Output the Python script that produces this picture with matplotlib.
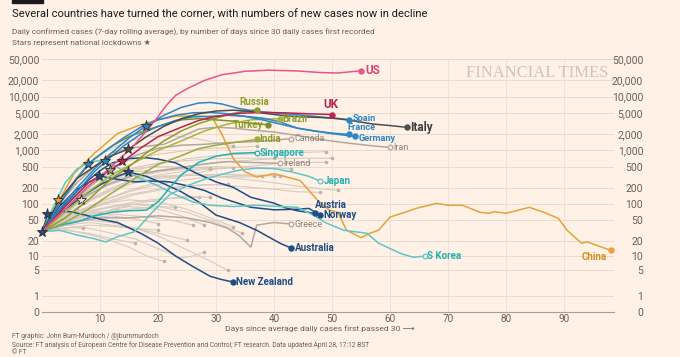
"""
FT chart: daily new cases by days since 30 daily cases, log(1+y) axis
"""

import numpy as np
import matplotlib
matplotlib.use("Agg")
import matplotlib.pyplot as plt
from matplotlib import font_manager
from matplotlib.ticker import NullLocator

names = {f.name for f in font_manager.fontManager.ttflist}
base = "Liberation Sans Narrow" if "Liberation Sans Narrow" in names else "Roboto"
plt.rcParams["font.family"] = [base, "DejaVu Sans"]

BG = "#fff1e5"

# ---- data: (days since 30 cases, 7-day avg daily cases)
us_d = [0, 4, 8, 11, 14, 16, 18, 19.5, 21.5, 23, 25, 28, 31, 35, 39, 44, 48, 51, 53, 55]
us_v = [30, 80, 220, 400, 800, 1300, 2300, 3600, 7000, 10500, 14000, 20000, 25500, 29500, 31000, 30000, 28000, 27500, 28800, 30200]
uk_d = [0, 4, 8, 12, 14, 17, 20, 24, 27, 30, 34, 38, 42, 46, 50]
uk_v = [30, 90, 250, 450, 625, 1100, 1800, 2700, 3600, 4300, 4900, 5100, 5000, 4800, 4650]
it_d = [0, 3, 6, 9, 12, 15, 18, 21, 24, 27, 30, 33, 36, 39, 42, 45, 48, 51, 54, 57, 60, 63]
it_v = [30, 120, 300, 500, 800, 1070, 1800, 2800, 3900, 4800, 5400, 5600, 5300, 4800, 4400, 4200, 4100, 3900, 3500, 3100, 2900, 2680]
es_d = [0, 3, 6, 9, 12, 15, 18, 21, 24, 27, 29, 31, 34, 37, 40, 43, 46, 50, 53]
es_v = [30, 80, 200, 450, 900, 1700, 2900, 4500, 6300, 7600, 7800, 7300, 6000, 5300, 5000, 4700, 4400, 4000, 3750]
fr_d = [0, 3, 6, 9, 11, 14, 17, 20, 23, 26, 29, 32, 35, 38, 41, 44, 47, 50, 53]
fr_v = [30, 70, 170, 400, 625, 1200, 2000, 2800, 3600, 4200, 4300, 4500, 4300, 4000, 3400, 2600, 2300, 2100, 1990]
de_d = [0, 3, 6, 8, 11, 14, 17, 20, 23, 26, 29, 32, 35, 38, 41, 44, 47, 50, 54]
de_v = [30, 100, 300, 567, 1000, 1700, 2700, 3700, 4500, 5000, 5100, 4800, 4300, 3700, 3100, 2600, 2300, 2050, 1820]
ir_d = [0, 3, 6, 9, 12, 15, 18, 21, 24, 27, 30, 33, 36, 40, 44, 48, 52, 56, 60]
ir_v = [30, 100, 250, 500, 900, 1100, 1200, 1300, 1800, 2500, 2700, 2600, 2400, 2200, 1900, 1600, 1400, 1250, 1135]
ca_d = [0, 4, 8, 12, 16, 20, 24, 28, 32, 36, 40, 43]
ca_v = [30, 80, 200, 450, 800, 1100, 1250, 1300, 1400, 1450, 1550, 1660]
ru_d = [0, 4, 8, 12, 15, 18, 21, 24, 27, 30, 33, 37]
ru_v = [30, 55, 120, 300, 500, 900, 1500, 2300, 3150, 4000, 4900, 5750]
br_d = [0, 4, 8, 12, 16, 20, 24, 28, 32, 36, 38, 41]
br_v = [30, 70, 170, 350, 600, 1000, 1500, 2300, 3100, 3700, 3800, 3900]
tr_d = [0, 3, 6, 9, 12, 15, 18, 21, 24, 27, 30, 33, 36, 39]
tr_v = [30, 100, 300, 700, 1200, 1800, 2400, 3000, 3700, 3900, 3700, 3500, 3200, 3000]
in_d = [0, 4, 8, 12, 16, 20, 24, 27, 30, 33, 37]
in_v = [30, 45, 80, 160, 300, 550, 800, 1080, 1250, 1400, 1600]
sg_d = [0, 3, 6, 9, 12, 15, 18, 20, 22, 24, 27, 30, 33, 37]
sg_v = [30, 40, 46, 60, 70, 75, 77, 110, 200, 350, 600, 780, 880, 915]
jp_d = [0, 3, 6, 9, 11, 13, 16, 19, 22, 25, 28, 31, 34, 37, 40, 43, 46, 48]
jp_v = [30, 32, 26, 22, 19, 24, 30, 70, 150, 220, 290, 360, 430, 470, 460, 400, 330, 267]
kr_d = [0, 2, 4, 6, 8, 10, 12, 14, 17, 20, 23, 26, 29, 33, 37, 41, 44, 47, 49, 52, 56, 58, 62, 64, 66]
kr_v = [30, 90, 250, 450, 600, 650, 560, 420, 300, 220, 150, 110, 95, 90, 95, 90, 87, 60, 44, 32, 28, 18, 11, 9.4, 9.9]
ie_d = [0, 4, 8, 12, 16, 20, 24, 28, 32, 36, 41]
ie_v = [30, 80, 150, 250, 350, 420, 480, 560, 620, 600, 575]
gr_d = [0, 5, 10, 15, 20, 25, 29, 32, 34, 36, 37, 40, 43]
gr_v = [30, 45, 55, 55, 60, 55, 45, 35, 25, 15, 40, 45, 42]
at_d = [0, 2, 4, 6, 8, 10, 12, 15, 18, 20, 23, 27, 30, 33, 36, 40, 42, 44, 47]
at_v = [30, 55, 100, 170, 280, 420, 580, 710, 730, 690, 590, 360, 260, 205, 134, 104, 85, 75, 67]
no_d = [0, 3, 6, 10, 13, 16, 19, 22, 25, 28, 31, 36, 40, 44, 46, 48]
no_v = [30, 90, 190, 333, 290, 260, 270, 260, 220, 180, 130, 87, 78, 80, 83, 62]
au_d = [0, 4, 7, 10, 13, 15, 18, 21, 24, 27, 30, 34, 37, 39, 41, 43]
au_v = [30, 80, 140, 230, 330, 395, 330, 240, 170, 110, 62, 45, 32, 24, 18, 14.3]
nz_d = [0, 1, 3, 5, 8, 10, 13, 17, 20, 23, 26, 29, 31, 33]
nz_v = [30, 64, 72, 72, 60, 52, 45, 28, 18, 10, 6, 3.6, 3, 2.6]
cn_d = [0, 3, 5.5, 9, 13, 17, 20, 23, 26, 28, 29.5, 31, 33, 35, 37, 40, 44.5, 46, 47.5, 49.5, 51,
        52.5, 55, 56.5, 58, 60, 62, 64.5, 68, 70, 72.5, 75.5, 77, 78, 80, 84, 86.5, 89, 90.5, 93, 94, 98]
cn_v = [30, 120, 370, 880, 2050, 3000, 3700, 4300, 4400, 4300, 3800, 2000, 700, 400, 320, 370, 275, 180, 118, 77, 70,
        32, 23, 28, 32, 57, 67, 83, 103, 95, 95, 70, 67, 72, 67, 87, 70, 54, 32, 18, 19, 13]

# unlabelled countries (grey)
background = [
    ([0, 4, 8, 12, 16, 20, 25, 30, 35, 40, 45, 49], [30, 70, 150, 280, 420, 550, 700, 800, 850, 900, 920, 950]),
    ([0, 4, 8, 12, 16, 20, 25, 30, 35, 40, 45, 50], [30, 60, 120, 200, 300, 400, 500, 600, 650, 700, 720, 710]),
    ([0, 5, 10, 15, 20, 25, 30, 35, 40, 45, 49], [30, 60, 110, 180, 260, 350, 450, 500, 560, 600, 600]),
    ([0, 4, 8, 12, 16, 20, 25, 30, 35, 40], [30, 80, 180, 330, 480, 580, 650, 700, 720, 710]),
    ([0, 4, 8, 12, 16, 20, 25, 30, 34, 37], [30, 90, 250, 500, 700, 850, 1000, 1100, 1150, 1200]),
    ([0, 4, 8, 12, 16, 20, 25, 30, 35, 40, 43], [30, 70, 150, 250, 350, 420, 470, 500, 480, 470, 460]),
    ([0, 4, 8, 12, 16, 20, 25, 30, 35, 41], [30, 60, 110, 180, 250, 300, 340, 360, 350, 340]),
    ([0, 3, 7, 11, 15, 19, 24, 29, 34, 38], [30, 50, 80, 120, 170, 220, 280, 320, 340, 340]),
    ([0, 5, 10, 15, 20, 25, 30, 35, 40], [30, 80, 200, 300, 330, 350, 330, 320, 340]),
    ([0, 5, 10, 15, 20, 25, 30, 35, 40, 45, 51], [30, 70, 150, 250, 320, 350, 330, 290, 250, 210, 180]),
    ([0, 5, 10, 15, 20, 25, 30, 35, 40, 44, 48], [30, 55, 100, 150, 190, 220, 230, 210, 190, 170, 165]),
    ([0, 4, 8, 12, 16, 20, 24, 28, 33], [30, 60, 120, 200, 280, 350, 400, 450, 480]),
    ([0, 4, 8, 12, 16, 20, 24, 29], [30, 80, 170, 280, 350, 400, 440, 460]),
    ([0, 4, 8, 12, 16, 20, 24, 28, 32], [30, 50, 80, 110, 150, 180, 210, 230, 235]),
    ([0, 4, 8, 12, 16, 20, 24, 27], [30, 45, 70, 90, 110, 125, 130, 134]),
    ([0, 4, 8, 12, 16, 20, 25, 29], [30, 40, 55, 80, 100, 120, 140, 134]),
    ([0, 3, 6, 9, 12, 15, 18, 21], [30, 35, 30, 25, 20, 15, 10, 7.7]),
    ([0, 4, 8, 12, 16, 20, 24, 26, 28], [30, 40, 35, 28, 22, 14, 9, 10, 12]),
    ([0, 4, 8, 12, 16, 20, 24, 28, 32], [30, 45, 50, 45, 35, 25, 15, 9, 5]),
    ([0, 4, 8, 12, 16, 20, 25], [30, 40, 45, 40, 35, 28, 20.5]),
    ([0, 4, 8, 12, 16, 20], [30, 42, 55, 60, 52, 43]),
    ([0, 4, 8, 12, 16, 20], [30, 35, 40, 38, 35, 32]),
    ([0, 4, 8, 12, 16], [30, 32, 28, 22, 18]),
    ([0, 3, 6, 9, 13], [30, 45, 60, 70, 76]),
    ([0, 2, 4, 6], [30, 45, 65, 80]),
    ([0, 3, 6, 9], [30, 50, 75, 95]),
    ([0, 2, 4, 7], [30, 33, 36, 35]),
    ([0, 3, 6, 10], [30, 40, 55, 67]),
    ([0, 4, 8, 12, 16, 19], [30, 50, 75, 90, 100, 95]),
    ([0, 4, 8, 12, 16, 20, 23, 26], [30, 45, 60, 65, 60, 55, 48, 40]),
    ([0, 5, 10, 15, 20, 24, 28], [30, 50, 70, 90, 80, 60, 40]),
    ([0, 5, 10, 15, 20, 25, 30, 33], [30, 60, 100, 120, 110, 80, 50, 37]),
    ([0, 5, 10, 15, 20, 25, 30, 34.5], [30, 50, 80, 100, 90, 70, 45, 28]),
    ([0, 5, 10, 15, 20, 23], [30, 50, 70, 80, 90, 87]),
    ([0, 3, 6, 9, 12, 15, 18], [30, 70, 150, 250, 330, 390, 420]),
    ([0, 4, 8, 12, 16, 20, 24, 29], [30, 90, 220, 380, 460, 500, 490, 480]),
    ([0, 3, 6, 9, 12, 15, 18, 22, 26, 30, 33], [30, 110, 320, 700, 1100, 1500, 1800, 1900, 1700, 1400, 1200]),
]

# national lockdown stars
star_d = [0, 0.8, 2.8, 6.8, 7.9, 9.9, 10.9, 11.8, 13.8, 14.8, 14.9, 17.9]
star_v = [30, 64, 118, 121, 567, 333, 625, 438, 625, 1070, 395, 2900]

yticks = [0, 1, 5, 10, 20, 50, 100, 200, 500, 1000, 2000, 5000, 10000, 20000, 50000]
xticks = [10, 20, 30, 40, 50, 60, 70, 80, 90]

# ---- colours
PINK, CRIM, DGREY = "#e6568a", "#b8244f", "#4d4d4d"
BLUE, NAVY, TEAL, LTEAL = "#2b86c8", "#1f4c86", "#22b0b3", "#5ec7c6"
OLIVE, GOLD = "#8c9d2e", "#e3a23a"
LGREY, LABG = "#b3a89f", "#8a827c"
BGLINE = "#d6cbc1"
TXT = "#66605b"

star_c = [NAVY, NAVY, GOLD, "#e9e0d6", BLUE, NAVY, BLUE, "#a59a86", CRIM, DGREY, NAVY, BLUE]

# name, days, vals, line colour, label colour, offset(px), ha, va, size, bold, hollow
labels = [
    ("US", us_d, us_v, PINK, "#e0407a", (4, 0), "left", "center", 8.5, True, False),
    ("UK", uk_d, uk_v, CRIM, CRIM, (-1, 4), "center", "bottom", 8.5, True, False),
    ("Italy", it_d, it_v, DGREY, "#3d3d3d", (3, 0), "left", "center", 8.5, True, False),
    ("Spain", es_d, es_v, BLUE, BLUE, (3, 1.5), "left", "center", 6.6, True, False),
    ("France", fr_d, fr_v, BLUE, BLUE, (-2, 6.5), "left", "center", 6.6, True, False),
    ("Germany", de_d, de_v, BLUE, BLUE, (3, -2), "left", "center", 6.6, True, False),
    ("Iran", ir_d, ir_v, LGREY, LABG, (3, 0), "left", "center", 6.5, False, True),
    ("Canada", ca_d, ca_v, LGREY, LABG, (3, 0), "left", "center", 6.5, False, True),
    ("Russia", ru_d, ru_v, OLIVE, OLIVE, (-2, 3), "center", "bottom", 7, True, False),
    ("Brazil", br_d, br_v, "#a6b43f", OLIVE, (3, 0), "left", "center", 7, True, False),
    ("Turkey", tr_d, tr_v, "#7f8f28", OLIVE, (-5, 0), "right", "center", 7, True, False),
    ("India", in_d, in_v, "#9aab3c", OLIVE, (3, 0), "left", "center", 7, True, False),
    ("Singapore", sg_d, sg_v, TEAL, TEAL, (3, 0), "left", "center", 7, True, True),
    ("Japan", jp_d, jp_v, LTEAL, TEAL, (3, 0), "left", "center", 7, True, True),
    ("S Korea", kr_d, kr_v, LTEAL, TEAL, (2, 0), "left", "center", 7, True, True),
    ("Ireland", ie_d, ie_v, LGREY, LABG, (3, 0), "left", "center", 6.5, False, True),
    ("Greece", gr_d, gr_v, LGREY, LABG, (3, 0), "left", "center", 6.5, False, True),
    ("Austria", at_d, at_v, NAVY, NAVY, (0, 3), "left", "bottom", 7, True, False),
    ("Norway", no_d, no_v, NAVY, NAVY, (3, 0), "left", "center", 7, True, False),
    ("Australia", au_d, au_v, NAVY, NAVY, (4, 0), "left", "center", 7, True, False),
    ("New Zealand", nz_d, nz_v, NAVY, NAVY, (3, 0), "left", "center", 7, True, False),
    ("China", cn_d, cn_v, GOLD, "#d28f24", (-4, -2), "right", "top", 7, True, False),
]


def fwd(y):
    return np.log10(np.clip(y, 0, None) + 1)


def inv(x):
    return 10 ** x - 1


fig = plt.figure(figsize=(6.8, 3.57), dpi=100, facecolor=BG)
ax = fig.add_axes([42 / 680, 45 / 357, 572 / 680, 253 / 357])
ax.set_facecolor(BG)
ax.set_yscale("function", functions=(fwd, inv))
ax.set_ylim(0, 50000)
ax.set_xlim(0, 98.6)
ax.set_axisbelow(True)

for d, v in background:
    ax.plot(d, v, color=BGLINE, lw=0.8, zorder=2, solid_joinstyle="round")
    ax.plot(d[-1], v[-1], "o", ms=2.6, color="#bdb2a8", mec="none", zorder=2)

for name, d, v, lc, tc, off, ha, va, fs, bold, hollow in labels[::-1]:
    z = 3 if lc == LGREY else 4
    ax.plot(d, v, color=lc, lw=1.1, zorder=z, solid_joinstyle="round")
    if hollow:
        ax.plot(d[-1], v[-1], "o", ms=3.4, mfc=BG, mec=lc, mew=0.9, zorder=6)
    else:
        ax.plot(d[-1], v[-1], "o", ms=3.6, color=lc, zorder=6)
    ax.annotate(name, (d[-1], v[-1]), xytext=(off[0] * 0.72, off[1] * 0.72),
                textcoords="offset points", ha=ha, va=va, fontsize=fs, color=tc,
                fontweight="bold" if bold else "normal", zorder=7)

for d, v, c in zip(star_d, star_v, star_c):
    ax.plot(d, v, marker="*", ms=8, mfc=c, mec="#2b2b2b", mew=0.6, zorder=8, clip_on=False)

# axes cosmetics
ax.set_yticks(yticks)
ax.yaxis.set_minor_locator(NullLocator())
ax.set_yticklabels([f"{t:,}" for t in yticks])
ax.set_xticks(xticks)
ax.tick_params(axis="both", length=0, colors=TXT)
ax.tick_params(axis="y", pad=2, labelsize=7.5)
ax.tick_params(axis="x", pad=1.5, labelsize=7.2)
ax.grid(axis="y", color="#e9dbce", lw=0.7)
ax.grid(axis="x", color="#eee1d5", lw=0.7)
for s in ["top", "right", "left"]:
    ax.spines[s].set_visible(False)
ax.spines["bottom"].set_color("#a89e96")
ax.spines["bottom"].set_linewidth(0.8)

ax2 = ax.twinx()
ax2.set_yscale("function", functions=(fwd, inv))
ax2.set_ylim(0, 50000)
ax2.set_yticks(yticks)
ax2.yaxis.set_minor_locator(NullLocator())
ax2.set_yticklabels([f"{t:,}" for t in yticks])
ax2.tick_params(axis="y", length=0, colors=TXT, labelsize=7.5, pad=21)
for tk in ax2.yaxis.get_major_ticks():
    tk.label2.set_horizontalalignment("right")
for s in ax2.spines.values():
    s.set_visible(False)

ax.text(0.99, 0.945, "FINANCIAL TIMES", transform=ax.transAxes, ha="right", va="center",
        fontsize=12, color="#cfc5bc", family=["Liberation Serif", "DejaVu Serif"])

# titles and notes
fig.patches.append(plt.Rectangle((12 / 680, 1 - 2.5 / 357), 31 / 680, 2.5 / 357,
                                 transform=fig.transFigure, color="#1a1a1a"))
fig.text(12 / 680, 1 - 14 / 357, "Several countries have turned the corner, with numbers of new cases now in decline",
         fontsize=8.1, color="#1a1a1a", va="center")
fig.text(12 / 680, 1 - 32 / 357,
         "Daily confirmed cases (7-day rolling average), by number of days since 30 daily cases first recorded",
         fontsize=5.95, color=TXT, va="center")
fig.text(12 / 680, 1 - 42.5 / 357, "Stars represent national lockdowns \u2605",
         fontsize=5.95, color=TXT, va="center")
fig.text(225 / 680, 1 - 328.5 / 357, "Days since average daily cases first passed 30 \u27f6",
         fontsize=6.1, color=TXT, va="center")
fig.text(12 / 680, 1 - 337 / 357, "FT graphic: John Burn-Murdoch / @jburnmurdoch",
         fontsize=4.8, color=TXT, va="center")
fig.text(12 / 680, 1 - 345 / 357,
         "Source: FT analysis of European Centre for Disease Prevention and Control; FT research. Data updated April 28, 17:12 BST",
         fontsize=4.8, color=TXT, va="center")
fig.text(12 / 680, 1 - 353 / 357, "\u00a9 FT", fontsize=4.8, color=TXT, va="center")

fig.savefig("out.png", dpi=100, facecolor=BG)
